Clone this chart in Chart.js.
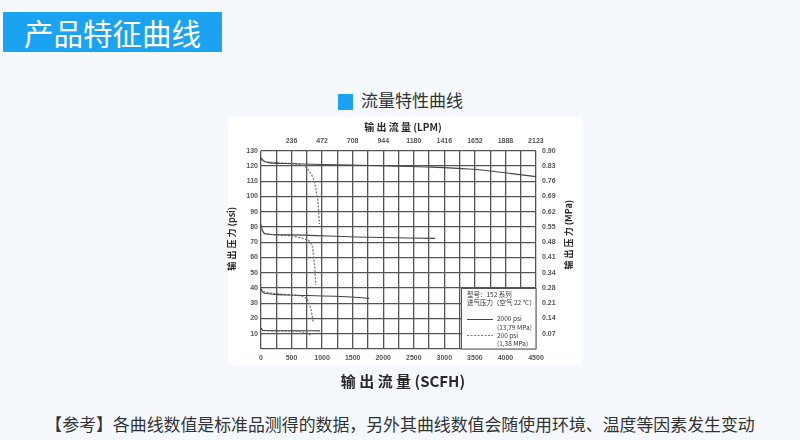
<!DOCTYPE html>
<html>
<head>
<meta charset="utf-8">
<script src="https://cdn.jsdelivr.net/npm/chart.js@4/dist/chart.umd.min.js"></script>
<style>
    html, body { margin: 0; padding: 0; }
    body {
        width: 800px; height: 440px; position: relative; overflow: hidden;
        background: #f5f9fd;
        font-family: "Noto Sans CJK SC", "Noto Sans", sans-serif;
    }
    .header {
        position: absolute; left: 3px; top: 12px; width: 219px; height: 40px;
        background: #1ba3f2; color: #fff; font-size: 29.5px; line-height: 40px;
        text-align: center;
    }
    .subtitle {
        position: absolute; left: 338px; top: 89px; font-size: 17px; color: #333;
        line-height: 22px;
    }
    .subtitle span {
        display: inline-block; width: 15px; height: 16px; background: #1ba3f2;
        vertical-align: -3px; margin-right: 8px;
    }
    .panel {
        position: absolute; left: 228px; top: 117px; width: 354px; height: 248px;
        background: #fff;
    }
    .chartbox { position: absolute; left: 220px; top: 110px; width: 370px; height: 285px; }
    .note {
        position: absolute; left: 0; width: 800px; top: 412px; text-align: center;
        font-size: 16.9px; color: #333; line-height: 24px;
    }
</style>
</head>
<body>
<div class="header">产品特征曲线</div>
<div class="subtitle"><span></span>流量特性曲线</div>
<div class="panel"></div>
<div class="chartbox"><canvas id="flowChart" width="370" height="285"></canvas></div>
<div class="note">【参考】各曲线数值是标准品测得的数据，另外其曲线数值会随使用环境、温度等因素发生变动</div>

<script>
// Datos: caudal (SCFH) y presión de salida (psi)
const xTickLabels = ['0', '500', '1000', '1500', '2000', '2500', '3000', '3500', '4000', '4500'];
const lpmTicks = [236, 472, 708, 944, 1180, 1416, 1652, 1888, 2123];
const mpaLabels = ['', '0.07', '0.14', '0.21', '0.28', '0.34', '0.41', '0.48', '0.55', '0.62', '0.69', '0.76', '0.83', '0.90'];

// Entrada 2000 psi (línea continua)
const flowA120 = [0, 40, 120, 400, 1000, 2100, 2800, 3400, 3750, 4100, 4500];
const psiA120 = [125.5, 123.5, 122.2, 121.6, 121, 120, 119.2, 118, 116.7, 115, 113];
const flowA80 = [0, 25, 70, 450, 1540, 2850];
const psiA80 = [81.5, 77.5, 75.4, 74.8, 73.4, 72.5];
const flowA40 = [0, 25, 65, 450, 1540, 1770];
const psiA40 = [39.3, 37.5, 36.5, 35.4, 33.9, 33.2];
const flowA13 = [0, 20, 50, 400, 965];
const psiA13 = [13.8, 12.6, 12.1, 12, 11.9];

// Entrada 200 psi (línea discontinua)
const flowB120 = [0, 40, 120, 400, 600, 720, 800, 870, 910, 935, 955];
const psiB120 = [124.5, 123, 122.5, 121.8, 121, 119.5, 116, 110, 102, 95, 82];
const flowB80 = [0, 25, 80, 300, 560, 720, 800, 840, 862, 883, 895];
const psiB80 = [80.5, 77.5, 75.6, 74.8, 73.6, 72, 70.4, 67, 60.5, 51.8, 42];
const flowB40 = [0, 30, 120, 450, 720, 764, 800, 830, 856];
const psiB40 = [39.5, 38, 37, 35.6, 33.9, 32.1, 28.9, 23.4, 17];
const flowB13 = [0, 30, 100, 400, 720, 780, 810];
const psiB13 = [13.5, 12.5, 12, 11.8, 11, 10, 8.8];

const legendLines = ['型号：152 系列', '进气压力（空气 22 °C）', '2000 psi', '(13,79 MPa)', '200 psi', '(1,38 MPa)'];

const SCFH_MAX = 4500;
const LPM_MAX = SCFH_MAX * 28.317 / 60;

function toPoints(xs, ys) {
    return xs.map((x, i) => ({ x: x, y: ys[i] }));
}

function curve(xs, ys, dashed) {
    return {
        data: toPoints(xs, ys),
        borderColor: dashed ? '#7a7a7a' : '#454545',
        borderWidth: dashed ? 1.3 : 1.1,
        borderDash: dashed ? [2, 1.5] : [],
        pointRadius: 0,
        cubicInterpolationMode: 'monotone',
        fill: false
    };
}

const tickFont = { family: 'Liberation Sans, Arial, sans-serif', size: 7, weight: 'bold' };
const cjk = '"Noto Sans CJK SC", sans-serif';

// Títulos de ejes y leyenda dibujados sobre el área del gráfico
const extrasPlugin = {
    id: 'extras',
    afterDraw(chart) {
        const ctx = chart.ctx;
        const a = chart.chartArea;
        ctx.save();
        ctx.fillStyle = '#2a2a2a';
        ctx.textAlign = 'center';
        ctx.textBaseline = 'middle';

        ctx.font = 'bold 10px ' + cjk;
        ctx.fillText('输 出 流 量 (LPM)', a.left + 142, a.top - 23);

        ctx.font = 'bold 15px ' + cjk;
        ctx.fillText('输 出 流 量 (SCFH)', a.left + 142, a.bottom + 32);

        ctx.font = 'bold 9px ' + cjk;
        ctx.save();
        ctx.translate(a.left - 29, a.top + 88);
        ctx.rotate(-Math.PI / 2);
        ctx.fillText('输 出 压 力 (psi)', 0, 0);
        ctx.restore();
        ctx.save();
        ctx.translate(a.right + 33, a.top + 84);
        ctx.rotate(-Math.PI / 2);
        ctx.fillText('输 出 压 力 (MPa)', 0, 0);
        ctx.restore();

        // Caja de leyenda
        const bx = a.right - 75, by = a.bottom - 61;
        ctx.fillStyle = '#fff';
        ctx.fillRect(bx, by, 75, 61);
        ctx.strokeStyle = '#555';
        ctx.lineWidth = 1;
        ctx.strokeRect(bx + 0.5, by + 0.5, 74.5, 60.5);

        ctx.fillStyle = '#333';
        ctx.textAlign = 'left';
        ctx.font = '6.5px ' + cjk;
        ctx.fillText(legendLines[0], bx + 6, by + 7);
        ctx.fillText(legendLines[1], bx + 6, by + 15);
        ctx.fillText(legendLines[2], bx + 36, by + 31);
        ctx.fillText(legendLines[3], bx + 36, by + 40);
        ctx.fillText(legendLines[4], bx + 36, by + 48);
        ctx.fillText(legendLines[5], bx + 36, by + 56);

        ctx.strokeStyle = '#454545';
        ctx.beginPath();
        ctx.moveTo(bx + 6, by + 31.5);
        ctx.lineTo(bx + 32, by + 31.5);
        ctx.stroke();
        ctx.strokeStyle = '#7a7a7a';
        ctx.setLineDash([2, 1.5]);
        ctx.beginPath();
        ctx.moveTo(bx + 6, by + 47.5);
        ctx.lineTo(bx + 32, by + 47.5);
        ctx.stroke();
        ctx.restore();
    }
};

const ctx = document.getElementById('flowChart').getContext('2d');
new Chart(ctx, {
    type: 'line',
    data: {
        datasets: [
            curve(flowA120, psiA120, false),
            curve(flowA80, psiA80, false),
            curve(flowA40, psiA40, false),
            curve(flowA13, psiA13, false),
            curve(flowB120, psiB120, true),
            curve(flowB80, psiB80, true),
            curve(flowB40, psiB40, true),
            curve(flowB13, psiB13, true)
        ]
    },
    options: {
        responsive: false,
        animation: false,
        layout: { padding: 0 },
        plugins: {
            legend: { display: false },
            tooltip: { enabled: false }
        },
        scales: {
            x: {
                type: 'linear',
                position: 'bottom',
                min: 0,
                max: SCFH_MAX,
                afterFit: s => { s.height = 46; },
                border: { display: false },
                grid: { color: '#555', lineWidth: 1.3, drawTicks: false },
                ticks: {
                    stepSize: 250,
                    autoSkip: false,
                    maxRotation: 0,
                    padding: 5,
                    color: '#555',
                    font: tickFont,
                    callback: v => (v % 500 === 0 ? xTickLabels[v / 500] : '')
                }
            },
            x2: {
                type: 'linear',
                position: 'top',
                min: 0,
                max: LPM_MAX,
                afterFit: s => { s.height = 40.7; },
                afterBuildTicks: s => { s.ticks = lpmTicks.map(v => ({ value: v })); },
                border: { display: false },
                grid: { display: false, drawTicks: false },
                ticks: {
                    autoSkip: false,
                    maxRotation: 0,
                    padding: 5,
                    color: '#555',
                    font: tickFont,
                    callback: v => String(v)
                }
            },
            y: {
                type: 'linear',
                position: 'left',
                min: 0,
                max: 130,
                afterFit: s => { s.width = 41; },
                border: { display: false },
                grid: { color: '#555', lineWidth: 1.3, drawTicks: false },
                ticks: {
                    stepSize: 10,
                    padding: 3,
                    color: '#555',
                    font: tickFont,
                    callback: v => (v === 0 ? '' : String(v))
                }
            },
            y2: {
                type: 'linear',
                position: 'right',
                min: 0,
                max: 130,
                afterFit: s => { s.width = 54; },
                border: { display: false },
                grid: { display: false, drawTicks: false },
                ticks: {
                    stepSize: 10,
                    padding: 6,
                    color: '#555',
                    font: tickFont,
                    callback: v => mpaLabels[Math.round(v / 10)]
                }
            }
        }
    },
    plugins: [extrasPlugin]
});
</script>
</body>
</html>
